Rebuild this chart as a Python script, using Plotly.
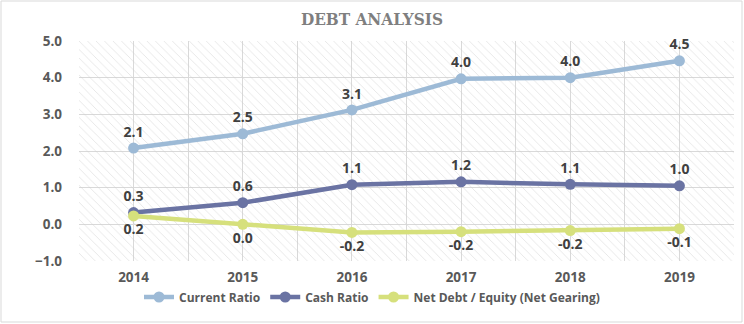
import plotly.graph_objects as go

years = ["2014", "2015", "2016", "2017", "2018", "2019"]
current_ratio = [2.08, 2.47, 3.12, 3.97, 4.00, 4.46]
cash_ratio = [0.32, 0.59, 1.08, 1.16, 1.09, 1.05]
net_gearing = [0.23, 0.00, -0.22, -0.20, -0.17, -0.12]
current_labels = ["2.1", "2.5", "3.1", "4.0", "4.0", "4.5"]
cash_labels = ["0.3", "0.6", "1.1", "1.2", "1.1", "1.0"]
gearing_labels = ["0.2", "0.0", "-0.2", "-0.2", "-0.2", "-0.1"]

x = list(range(len(years)))
FONT = "Open Sans"
LBL = dict(family=FONT, size=14, color="#404040", weight="bold")

fig = go.Figure()

# hatched plot background
fig.add_trace(go.Scatter(
    x=[-0.5, 5.5, 5.5, -0.5, -0.5], y=[-1, -1, 5, 5, -1],
    mode="lines", line=dict(width=0), fill="toself",
    fillcolor="rgba(0,0,0,0)",
    fillpattern=dict(shape="\\", fgcolor="#cdcdcd", bgcolor="rgba(0,0,0,0)", size=6, solidity=0.15),
    hoverinfo="skip", showlegend=False))

series = [
    ("Current Ratio", current_ratio, current_labels, "#9dbad6", "top center"),
    ("Cash Ratio", cash_ratio, cash_labels, "#6a73a3", "top center"),
    ("Net Debt / Equity (Net Gearing)", net_gearing, gearing_labels, "#d6e07c", "bottom center"),
]
for name, vals, labels, color, pos in series:
    fig.add_trace(go.Scatter(
        x=x, y=vals, name=name, mode="lines+markers+text",
        line=dict(color=color, width=4.5),
        marker=dict(color=color, size=11),
        text=labels, textposition=pos, textfont=LBL,
        cliponaxis=False))

fig.update_layout(
    width=744, height=324,
    margin=dict(l=79, r=10, t=41, b=63),
    paper_bgcolor="white", plot_bgcolor="white",
    title=dict(text="DEBT ANALYSIS", x=0.5, xanchor="center", xref="container",
               y=1 - 19 / 324, yanchor="middle",
               font=dict(family="DejaVu Serif Condensed", size=17, color="#7f7f7f", weight="bold")),
    xaxis=dict(range=[-0.5, 5.5], tickvals=x, ticktext=years,
               showgrid=True, gridcolor="#d9d9d9", gridwidth=1,
               minor=dict(tickvals=[-0.5, 0.5, 1.5, 2.5, 3.5, 4.5, 5.5], showgrid=True,
                          gridcolor="#d9d9d9", gridwidth=1, ticks=""),
               ticks="", zeroline=False, showline=False, ticklabelstandoff=6,
               tickfont=dict(family=FONT, size=13.5, color="#595959", weight="bold")),
    yaxis=dict(range=[-1, 5], dtick=1, tickformat=".1f",
               showgrid=True, gridcolor="#d9d9d9", gridwidth=1,
               zeroline=False, showline=False, ticks="", ticklen=0, ticklabelstandoff=16,
               tickfont=dict(family=FONT, size=13.5, color="#595959", weight="bold")),
    legend=dict(orientation="h", x=(372 - 79) / 655, xanchor="center", y=-36 / 220, yanchor="middle",
                font=dict(family=FONT, size=12, color="#595959", weight="bold"),
                itemwidth=30, tracegroupgap=0),
    shapes=[dict(type="rect", xref="paper", yref="paper",
                 x0=(1 - 79) / 655, x1=(742 - 79) / 655,
                 y0=-(322 - 261) / 220, y1=(261 - 1) / 220,
                 line=dict(color="#d9d9d9", width=1), fillcolor="rgba(0,0,0,0)", layer="below")],
)

fig.write_html("out.html")
